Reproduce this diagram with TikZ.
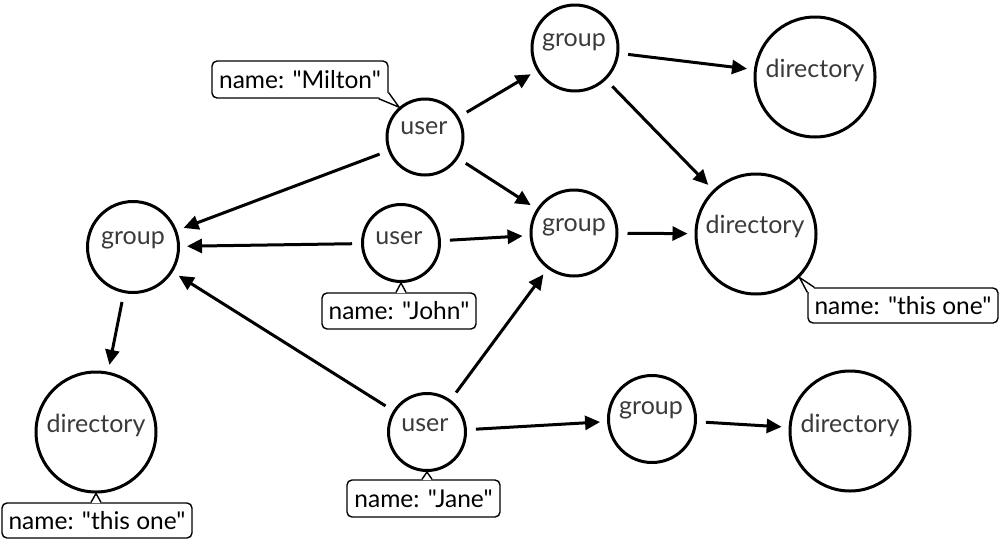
\documentclass[tikz,border=0pt]{standalone}
\usepackage{fontspec}
\setmainfont{Lato}[Ligatures=TeXOff]
\usetikzlibrary{arrows.meta,calc}
\definecolor{txt}{HTML}{3A3A3A}
\tikzset{
  ent/.style={circle,draw=black,line width=3pt,minimum size=#1,inner sep=0pt},
  lbl/.style={inner sep=0pt,text=txt,font=\fontsize{25}{28}\selectfont},
  conn/.style={line width=3pt,-{Triangle[length=15pt,width=14pt]},shorten <=9pt,shorten >=7pt},
  note/.style={draw=black,line width=1.4pt,rounded corners=5pt,fill=white,inner sep=0pt,
    font=\fontsize{24.5}{27}\selectfont},
  ptrfill/.style={fill=white},
  ptr/.style={draw=black,line width=1.4pt,line join=miter}
}
\begin{document}
\begin{tikzpicture}[x=1pt,y=-1pt]
\useasboundingbox (0,0) rectangle (999,552);
% circles
\node[ent=76pt] (u1) at (425,137) {};
\node[ent=77pt] (u2) at (401,243) {};
\node[ent=77pt] (u3) at (427,432) {};
\node[ent=86pt] (gt) at (575,48) {};
\node[ent=91pt] (gl) at (133,247) {};
\node[ent=86pt] (gm) at (574,233) {};
\node[ent=87pt] (gb) at (652,419) {};
\node[ent=120pt] (dt) at (815,77) {};
\node[ent=120pt] (dm) at (756,234) {};
\node[ent=120pt] (dl) at (96,432) {};
\node[ent=120pt] (dr) at (850,431) {};
% labels
\node[lbl] (u1t) at (424,128) {user};
\node[lbl] (u2t) at (399,238) {user};
\node[lbl] (u3t) at (425,425) {user};
\node[lbl] (gtt) at (574,42) {group};
\node[lbl] (glt) at (133,240) {group};
\node[lbl] (gmt) at (574,227) {group};
\node[lbl] (gbt) at (651,410) {group};
\node[lbl] (dtt) at (815,70) {directory};
\node[lbl] (dmt) at (755,226) {directory};
\node[lbl] (dlt) at (96,425) {directory};
\node[lbl] (drt) at (850,425) {directory};

% connectors
\draw[conn] (u1) -- (gt);
\draw[conn] (u1) -- (gl);
\draw[conn] (u1) -- (gm);
\draw[conn] (gt) -- (dt);
\draw[conn] (gt) -- (dm);
\draw[conn] (u2) -- (gl);
\draw[conn] (u2) -- (gm);
\draw[conn] (gm) -- (dm);
\draw[conn] (gl) -- (dl);
\draw[conn] (u3) -- (gl);
\draw[conn] (u3) -- (gm);
\draw[conn] (u3) -- (gb);
\draw[conn] (gb) -- (dr);

% callouts
\node[note,minimum width=176pt,minimum height=37pt] (n1) at (300,79.5) {name: "Milton"};
\node[note,minimum width=154pt,minimum height=36pt] (n2) at (399,311) {name: "John"};
\node[note,minimum width=190pt,minimum height=35pt] (n3) at (903,305.5) {name: "this one"};
\node[note,minimum width=190pt,minimum height=35pt] (n4) at (97,520.5) {name: "this one"};
\node[note,minimum width=153pt,minimum height=37pt] (n5) at (423.5,498.5) {name: "Jane"};

% pointers: corner ones
\coordinate (a1) at (u1.131);
\fill[ptrfill] ([xshift=-10pt,yshift=0.8pt]n1.south east) -- ([xshift=-4pt,yshift=4pt]n1.south east) -- ([xshift=-0.8pt,yshift=6pt]n1.south east) -- (a1) -- cycle;
\draw[ptr] ([xshift=-10pt]n1.south east) -- (a1) -- ([yshift=6pt]n1.south east);
\coordinate (a3) at (dm.-45);
\fill[ptrfill] ([xshift=0.8pt,yshift=-5pt]n3.north west) -- ([xshift=4pt,yshift=-4pt]n3.north west) -- ([xshift=7pt,yshift=-0.8pt]n3.north west) -- (a3) -- cycle;
\draw[ptr] ([yshift=-5pt]n3.north west) -- (a3) -- ([xshift=7pt]n3.north west);
% pointers: top ones
\foreach \n/\c in {n2/u2,n4/dl,n5/u3}{
  \coordinate (a\n) at (\c.south);
  \fill[ptrfill] ([xshift=-4.5pt,yshift=-0.8pt]\n.north -| a\n) -- (a\n) -- ([xshift=4.5pt,yshift=-0.8pt]\n.north -| a\n) -- cycle;
  \draw[ptr] ([xshift=-5pt]\n.north -| a\n) -- (a\n) -- ([xshift=5pt]\n.north -| a\n);
}
\end{tikzpicture}
\end{document}
